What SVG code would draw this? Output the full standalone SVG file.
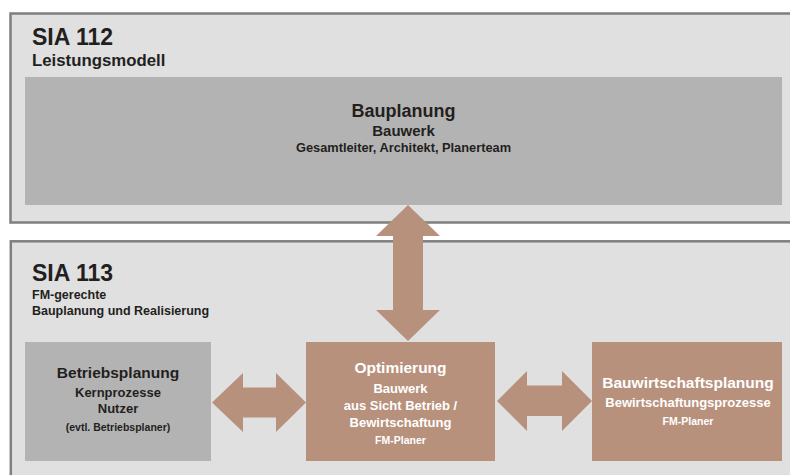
<svg xmlns="http://www.w3.org/2000/svg" width="790" height="475" viewBox="0 0 790 475">
<style>
text{font-family:"Liberation Sans",Arial,sans-serif;font-weight:bold}
.dk{fill:#231f20}
.wt{fill:#ffffff}
.c{text-anchor:middle}
.outer{fill:#e0e0e0;stroke:#7f7f7f;stroke-width:2.5}
.gray{fill:#b3b3b3}
.brown{fill:#b8917d}
</style>
<rect width="790" height="475" fill="#ffffff"/>
<g id="sia112">
<rect class="outer" x="10.5" y="13.5" width="790" height="209"/>
<text class="dk" x="32" y="45" font-size="23">SIA 112</text>
<text class="dk" x="32" y="65.7" font-size="16.8">Leistungsmodell</text>
</g>
<g id="sia113">
<rect class="outer" x="10.8" y="241.3" width="790" height="250"/>
<text class="dk" x="32" y="280.5" font-size="23">SIA 113</text>
<text class="dk" x="32" y="298.5" font-size="12.5">FM-gerechte</text>
<text class="dk" x="32" y="315" font-size="12.5">Bauplanung und Realisierung</text>
</g>
<g id="bauplanung">
<rect class="gray" x="25" y="77" width="757" height="128"/>
<text class="dk c" x="403.5" y="117" font-size="18">Bauplanung</text>
<text class="dk c" x="403.5" y="136" font-size="15">Bauwerk</text>
<text class="dk c" x="403.5" y="152" font-size="12.8">Gesamtleiter, Architekt, Planerteam</text>
</g>
<g id="betriebsplanung">
<rect class="gray" x="25" y="342" width="186" height="119"/>
<text class="dk c" x="118" y="378" font-size="15.5">Betriebsplanung</text>
<text class="dk c" x="118" y="397" font-size="13">Kernprozesse</text>
<text class="dk c" x="118" y="412.5" font-size="13">Nutzer</text>
<text class="dk c" x="118" y="431" font-size="10.5">(evtl. Betriebsplaner)</text>
</g>
<g id="optimierung">
<rect class="brown" x="306" y="342" width="189" height="119"/>
<text class="wt c" x="400.5" y="373" font-size="15.5">Optimierung</text>
<text class="wt c" x="400.5" y="393" font-size="13">Bauwerk</text>
<text class="wt c" x="400.5" y="410" font-size="13">aus Sicht Betrieb /</text>
<text class="wt c" x="400.5" y="427" font-size="13">Bewirtschaftung</text>
<text class="wt c" x="400.5" y="444" font-size="10.5">FM-Planer</text>
</g>
<g id="bauwirtschaftsplanung">
<rect class="brown" x="592" y="342" width="190" height="119"/>
<text class="wt c" x="688" y="388" font-size="15.5">Bauwirtschaftsplanung</text>
<text class="wt c" x="688" y="407" font-size="13">Bewirtschaftungsprozesse</text>
<text class="wt c" x="688" y="425" font-size="10.5">FM-Planer</text>
</g>
<g id="connectors" class="brown">
<polygon points="408,205 440,236 423,236 423,310 440,310 408,341 376,310 393,310 393,236 376,236"/>
<polygon points="212,402.5 243,373 243,387.5 276,387.5 276,373 306,402.5 276,432 276,417.5 243,417.5 243,432"/>
<polygon points="497,401 527,371 527,385.5 562,385.5 562,371 592,401 562,431 562,416 527,416 527,431"/>
</g>
</svg>
